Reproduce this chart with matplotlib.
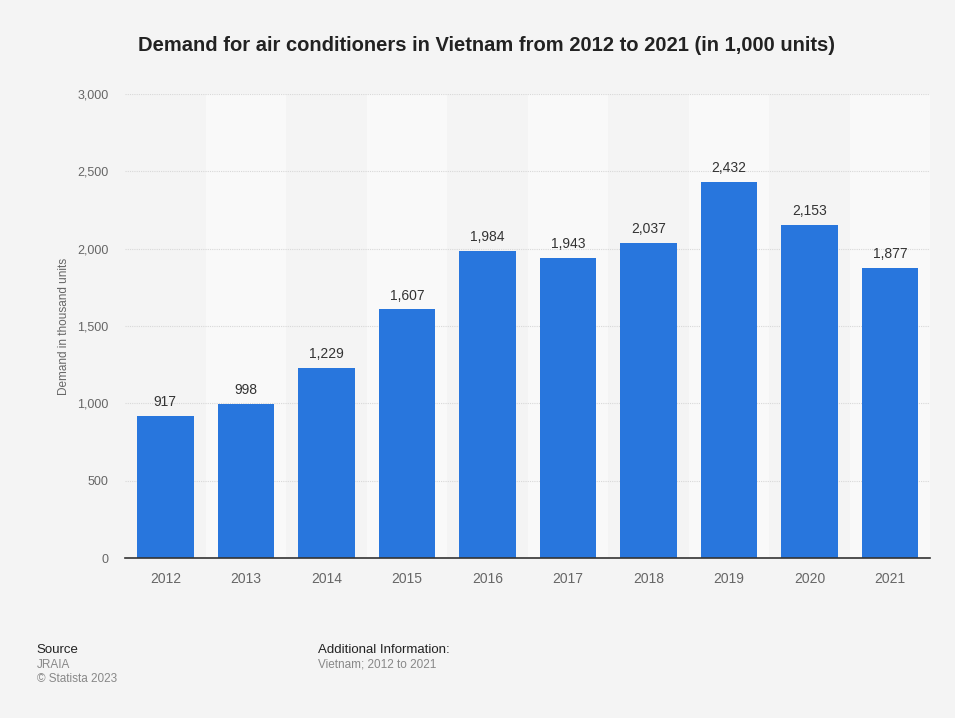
import matplotlib
matplotlib.use("Agg")
import matplotlib.pyplot as plt

years = ["2012", "2013", "2014", "2015", "2016", "2017", "2018", "2019", "2020", "2021"]
demand = [917, 998, 1229, 1607, 1984, 1943, 2037, 2432, 2153, 1877]
yticks = [0, 500, 1000, 1500, 2000, 2500, 3000]

plt.rcParams['font.family'] = ['Liberation Sans', 'DejaVu Sans']

fig = plt.figure(figsize=(9.55, 7.18), dpi=100, facecolor='#f4f4f4')
ax = fig.add_axes([0.131, 0.2228, 0.843, 0.6462])
ax.set_facecolor('#f4f4f4')

x = list(range(len(years)))
for i in x:
    if i % 2 == 1:
        ax.axvspan(i - 0.5, i + 0.5, color='#f9f9f9', zorder=0, lw=0)

ax.bar(x, demand, width=0.7, color='#2876dd', zorder=3)
for xi, v in zip(x, demand):
    ax.text(xi, v + 45, f"{v:,}", ha='center', va='bottom', fontsize=10, color='#333333', zorder=4)

ax.set_xlim(-0.5, len(years) - 0.5)
ax.set_ylim(0, 3000)
ax.set_yticks(yticks)
ax.set_yticklabels([f"{t:,}" for t in yticks])
ax.set_xticks(x)
ax.set_xticklabels(years)
ax.tick_params(axis='both', length=0, colors='#666666')
ax.tick_params(axis='y', pad=12, labelsize=9)
ax.tick_params(axis='x', pad=10, labelsize=10)
ax.yaxis.grid(True, color='#d8d8d8', linestyle=(0, (1, 1)), linewidth=0.8, zorder=1)
for s in ['top', 'right', 'left']:
    ax.spines[s].set_visible(False)
ax.spines['bottom'].set_color('#333333')
ax.spines['bottom'].set_linewidth(1.2)
ax.spines['bottom'].set_zorder(5)
ax.set_ylabel("Demand in thousand units", fontsize=8.5, color='#666666', labelpad=5)

fig.text(0.509, 0.936, "Demand for air conditioners in Vietnam from 2012 to 2021 (in 1,000 units)",
         ha='center', va='center', fontsize=14.5, fontweight='bold', color='#222222')

fig.text(0.0385, 0.095, "Source", fontsize=9.5, color='#222222', va='center')
fig.text(0.0385, 0.074, "JRAIA", fontsize=8.5, color='#888888', va='center')
fig.text(0.0385, 0.054, "\u00a9 Statista 2023", fontsize=8.5, color='#888888', va='center')
fig.text(0.333, 0.095, "Additional Information:", fontsize=9.5, color='#222222', va='center')
fig.text(0.333, 0.074, "Vietnam; 2012 to 2021", fontsize=8.5, color='#888888', va='center')

fig.savefig("out.png", dpi=100, facecolor=fig.get_facecolor())
